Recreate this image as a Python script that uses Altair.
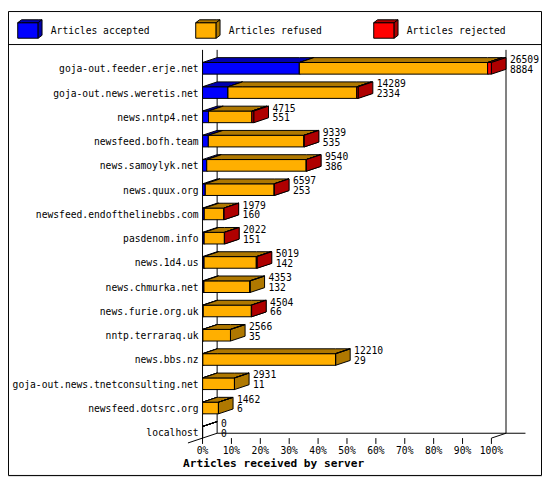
import altair as alt
import pandas as pd

# values (rejected/refused)
servers = [
    "goja-out.feeder.erje.net",
    "goja-out.news.weretis.net",
    "news.nntp4.net",
    "newsfeed.bofh.team",
    "news.samoylyk.net",
    "news.quux.org",
    "newsfeed.endofthelinebbs.com",
    "pasdenom.info",
    "news.1d4.us",
    "news.chmurka.net",
    "news.furie.org.uk",
    "nntp.terraraq.uk",
    "news.bbs.nz",
    "goja-out.news.tnetconsulting.net",
    "newsfeed.dotsrc.org",
    "localhost",
]
offered = [26509, 14289, 4715, 9339, 9540, 6597, 1979, 2022, 5019, 4353, 4504, 2566, 12210, 2931, 1462, 0]
accepted = [8884, 2334, 551, 535, 386, 253, 160, 151, 142, 132, 66, 35, 29, 11, 6, 0]
refused = [17275, 11825, 3984, 8774, 9129, 6324, 1804, 1856, 4797, 4221, 4418, 2531, 12181, 2920, 1456, 0]
rejected = [350, 130, 180, 30, 25, 20, 15, 15, 80, 0, 20, 0, 0, 0, 0, 0]
series_names = ["Articles accepted", "Articles refused", "Articles rejected"]
pct_ticks = [0, 10, 20, 30, 40, 50, 60, 70, 80, 90, 100]
x_title = "Articles received by server"

FRONT = ["#0000ff", "#ffaf00", "#ff0000"]
SHADE = ["#0000af", "#af7800", "#af0000"]
MONO = "DejaVu Sans Mono"

# layout is worked out in pixels of the 549x479 reference, the scale domains
# squeeze it into 541x471 so it fits next to the 8px page margin
W, H = 541, 471
PX_PCT = (497 - 200) / 100
PX_ROW = 25


def ux(px):
    return (px - 200) / PX_PCT


def uy(py):
    return (py - 59) / PX_ROW


DX = ux(215) - ux(200)   # 3d depth
DY = 5 / PX_ROW
HALF = 6 / PX_ROW        # half bar height

XS = alt.Scale(domain=[ux(0), ux(549)], nice=False, zero=False)
YS = alt.Scale(domain=[uy(0), uy(479)], nice=False, zero=False, reverse=True)


def top_face(pid, x1, x2, y_front, dx, dy):
    # parallelogram as an area: evaluate both edges at every corner
    rows = []
    for x in sorted({x1, x1 + dx, x2, x2 + dx}):
        back = y_front - dy * min(max((x - x1) / dx, 0), 1)
        front = y_front - dy * min(max((x - x2) / dx, 0), 1)
        rows.append(dict(pid=pid, x=x, y=back, y2=front))
    return rows


def side_face(pid, x2, y_top, y_bottom, dx, dy):
    return [
        dict(pid=pid, x=x2, y=y_top, y2=y_bottom),
        dict(pid=pid, x=x2 + dx, y=y_top - dy, y2=y_bottom - dy),
    ]


counts = [accepted, refused, rejected]
top_max = max(offered)
fronts, tops, sides = [[], [], []], [[], [], []], [[], [], []]
for i in range(len(servers)):
    start = 0
    for k in range(3):
        x1 = start / top_max * 100
        start += counts[k][i]
        x2 = start / top_max * 100
        pid = f"{i}-{k}"
        fronts[k].append(dict(x=x1, x2=x2, y=i - HALF, y2=i + HALF))
        tops[k] += top_face(pid, x1, x2, i - HALF, DX, DY)
        if x2 > x1:
            sides[k] += side_face(pid, x2, i - HALF, i + HALF, DX, DY)

# legend cubes share the same layers
legend_rows = []
for k, name in enumerate(series_names):
    off = 183 * k
    x1, x2 = ux(10 + off), ux(31 + off)
    yf, yb = uy(12), uy(28)
    ldx, ldy = 4 / PX_PCT, 3 / PX_ROW
    pid = f"legend-{k}"
    fronts[k].append(dict(x=x1, x2=x2, y=yf, y2=yb))
    tops[k] += top_face(pid, x1, x2, yf, ldx, ldy)
    sides[k] += side_face(pid, x2, yf, yb, ldx, ldy)
    legend_rows.append(dict(x=ux(44 + off), y=uy(20.5), label=name))

n = len(servers)
floor_front = n - 1 + HALF
floor_back = floor_front - DY
plot_top = uy(40)
tick_end = floor_front + 6 / PX_ROW
rules = [
    dict(x=0, x2=0, y=plot_top, y2=tick_end),
    dict(x=DX, x2=DX, y=plot_top, y2=floor_back),
    dict(x=100 + DX, x2=100 + DX, y=plot_top, y2=floor_back),
    dict(x=DX, x2=ux(532), y=floor_back, y2=floor_back),
    dict(x=-DX, x2=DX, y=floor_front + DY, y2=floor_back),
    dict(x=100, x2=100 + DX, y=floor_front, y2=floor_back),
    dict(x=ux(0), x2=ux(549), y=uy(34.5), y2=uy(34.5)),
]
for t in pct_ticks[1:]:
    rules.append(dict(x=t, x2=t, y=floor_front, y2=tick_end))

gap = 4 / PX_PCT
value_rows = []
for i in range(n):
    xe = offered[i] / top_max * 100 + DX + gap
    value_rows.append(dict(x=xe, y=i - 8.5 / PX_ROW, label=str(offered[i])))
    value_rows.append(dict(x=xe, y=i + 1.5 / PX_ROW, label=str(accepted[i])))

cat_df = pd.DataFrame(dict(x=ux(196), y=list(range(n)), label=servers))
tick_df = pd.DataFrame(dict(x=pct_ticks, y=uy(453), label=[f"{t}%" for t in pct_ticks]))
title_df = pd.DataFrame([dict(x=ux(180), y=uy(467), label=x_title)])


def xy(chart, x2=False, y2=False):
    enc = dict(x=alt.X("x:Q", scale=XS, axis=None), y=alt.Y("y:Q", scale=YS, axis=None, stack=None))
    if x2:
        enc["x2"] = alt.X2("x2")
    if y2:
        enc["y2"] = alt.Y2("y2")
    return chart.encode(**enc)


border = xy(
    alt.Chart(pd.DataFrame([dict(x=ux(0.5), x2=ux(548.5), y=uy(0.5), y2=uy(478.5))]))
    .mark_rect(fill="white", stroke="black", strokeWidth=1),
    x2=True, y2=True,
)
lines = xy(alt.Chart(pd.DataFrame(rules)).mark_rule(color="black", strokeWidth=1), x2=True, y2=True)

layers = [border, lines]
for k in range(3):
    layers.append(xy(
        alt.Chart(pd.DataFrame(fronts[k])).mark_rect(fill=FRONT[k], stroke="black", strokeWidth=1),
        x2=True, y2=True,
    ))
    for faces in (tops[k], sides[k]):
        if not faces:
            continue
        # no order channel here: on an area it would split every point into its own group
        layers.append(xy(
            alt.Chart(pd.DataFrame(faces)).mark_area(
                fill=SHADE[k], stroke="black", strokeWidth=1, opacity=1, interpolate="linear"
            ),
            y2=True,
        ).encode(detail="pid:N"))


def texts(df, **style):
    return xy(alt.Chart(df).mark_text(font=MONO, fontSize=9.8, color="black", baseline="middle", **style)).encode(
        text="label:N"
    )


layers += [
    texts(cat_df, align="right", dy=1),
    texts(pd.DataFrame(value_rows), align="left"),
    texts(tick_df, align="center"),
    texts(pd.DataFrame(legend_rows), align="left"),
    xy(alt.Chart(title_df).mark_text(font=MONO, fontSize=11.3, fontWeight="bold", color="black",
                                     align="left", baseline="middle")).encode(text="label:N"),
]

chart = (
    alt.layer(*layers)
    .properties(width=W, height=H, padding=0, autosize=alt.AutoSizeParams(type="none"))
    .configure_view(strokeWidth=0)
    .configure(background="white")
)
chart.save("out.html", embed_options={"renderer": "svg", "actions": False})
